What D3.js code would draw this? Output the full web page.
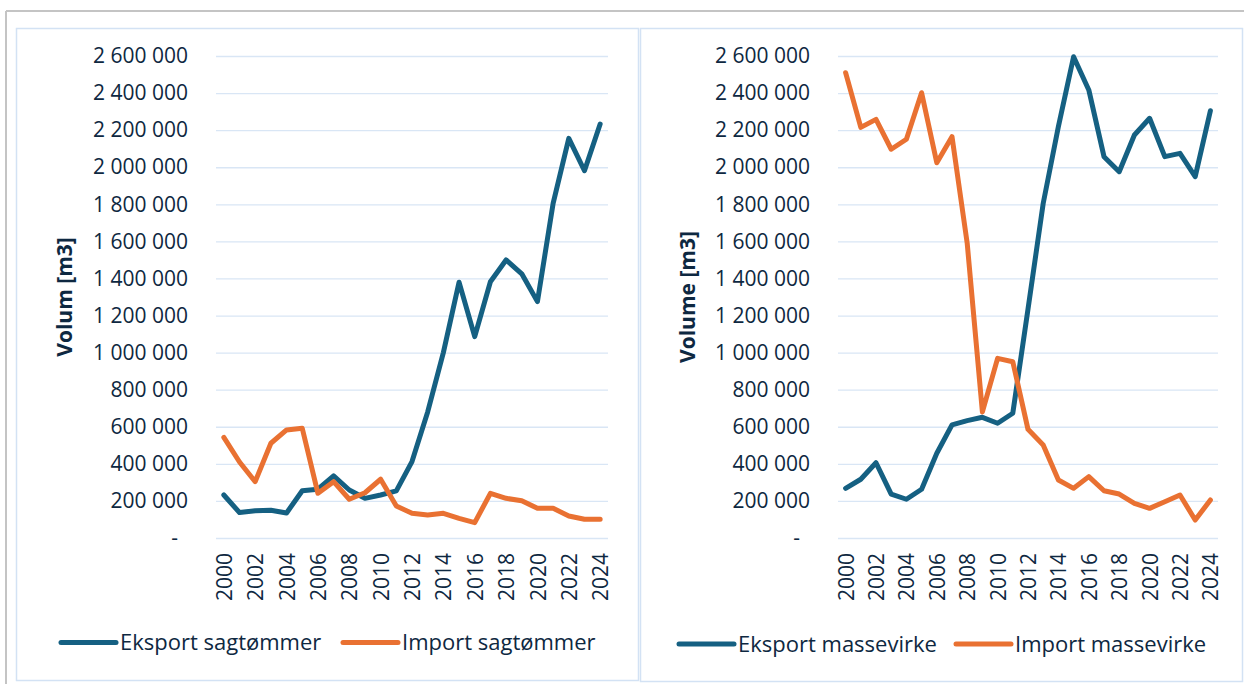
<!DOCTYPE html>
<html>
<head>
<meta charset="utf-8">
<script src="https://cdn.jsdelivr.net/npm/d3@7"></script>
<style>
  html, body { margin: 0; padding: 0; background: #fff; }
  svg { display: block; }
  text { font-family: "Open Sans", "Liberation Sans", Arial, sans-serif; fill: #0E2841; }
</style>
</head>
<body>
<svg id="chart" width="1244" height="684"></svg>
<script>
const years = [2000,2001,2002,2003,2004,2005,2006,2007,2008,2009,2010,2011,2012,2013,2014,2015,2016,2017,2018,2019,2020,2021,2022,2023,2024];
const yearTicks = [2000,2002,2004,2006,2008,2010,2012,2014,2016,2018,2020,2022,2024];
const yTicks = [0,200000,400000,600000,800000,1000000,1200000,1400000,1600000,1800000,2000000,2200000,2400000,2600000];

const eksportSagtommer = [232000,137000,147000,150000,135000,255000,263000,335000,259000,214000,232000,254000,412000,680000,1000000,1380000,1086000,1382000,1500000,1425000,1275000,1805000,2156000,1981000,2233000];
const importSagtommer  = [543000,410000,304000,511000,583000,592000,241000,304000,209000,244000,317000,173000,133000,124000,133000,106000,83000,241000,214000,201000,160000,160000,119000,101000,101000];
const eksportMassevirke = [268000,317000,406000,237000,209000,263000,457000,610000,633000,651000,619000,673000,1234000,1805000,2220000,2596000,2417000,2057000,1976000,2174000,2264000,2057000,2075000,1949000,2305000];
const importMassevirke  = [2510000,2215000,2258000,2097000,2151000,2402000,2024000,2165000,1590000,680000,969000,951000,586000,502000,313000,268000,331000,255000,237000,187000,160000,196000,232000,97000,205000];

const seriesNames = {
  left: ["Eksport sagtømmer", "Import sagtømmer"],
  right: ["Eksport massevirke", "Import massevirke"]
};
const axisTitles = { left: "Volum [m3]", right: "Volume [m3]" };

const BLUE = "#156082", ORANGE = "#E97132";
const GRID = "#d9e6f5", FRAME = "#d3e2f4";
const FONT = "'Open Sans', 'Liberation Sans', Arial, sans-serif";

const svg = d3.select("#chart");

// outer gray frame
svg.append("line").attr("x1", 6).attr("x2", 1244).attr("y1", 11).attr("y2", 11)
  .attr("stroke", "#c4c4c4").attr("stroke-width", 2);
svg.append("line").attr("x1", 6).attr("x2", 6).attr("y1", 11).attr("y2", 684)
  .attr("stroke", "#c4c4c4").attr("stroke-width", 2);

// panel frames
svg.append("rect").attr("x", 16.5).attr("y", 28.5).attr("width", 622).attr("height", 652)
  .attr("fill", "#fff").attr("stroke", FRAME).attr("stroke-width", 1.5);
svg.append("rect").attr("x", 640.5).attr("y", 28.5).attr("width", 602).attr("height", 653)
  .attr("fill", "#fff").attr("stroke", FRAME).attr("stroke-width", 1.5);

const fmt = v => v === 0 ? "-" : d3.format(",")(v).replace(/,/g, "\u00a0");

function drawChart(cfg) {
  const g = svg.append("g");
  const x = d3.scalePoint().domain(years).range([cfg.x0, cfg.x1]).padding(0.5);
  const y = d3.scaleLinear().domain([0, 2600000]).range([538, 56]);

  const yAxis = d3.axisLeft(y).tickValues(yTicks).tickSize(-(cfg.x1 - cfg.x0)).tickPadding(28).tickFormat(fmt);
  const ya = g.append("g").attr("transform", `translate(${cfg.x0},0)`).call(yAxis);
  ya.select(".domain").remove();
  ya.selectAll(".tick line").attr("stroke", GRID).attr("stroke-width", 1.3);
  ya.selectAll(".tick text").attr("font-size", 21).attr("fill", "#0E2841")
    .attr("font-family", FONT)
    .attr("x", d => d === 0 ? -38 : -28);

  const xAxis = d3.axisBottom(x).tickValues(yearTicks).tickSize(0).tickPadding(0);
  const xa = g.append("g").attr("transform", "translate(0,538)").call(xAxis);
  xa.select(".domain").remove();
  xa.selectAll(".tick text").attr("font-size", 21).attr("fill", "#0E2841")
    .attr("font-family", FONT)
    .attr("transform", "rotate(-90)").attr("x", -15).attr("y", 0).attr("dy", "0.36em")
    .attr("text-anchor", "end");

  g.append("text").attr("transform", `translate(${cfg.titleX},297) rotate(-90)`)
    .attr("text-anchor", "middle").attr("dy", "0.35em")
    .attr("font-size", 21).attr("font-weight", "bold").text(cfg.title);

  const line = d3.line().x((d, i) => x(years[i])).y(d => y(d));
  cfg.series.forEach(s => {
    g.append("path").datum(s.values).attr("d", line).attr("fill", "none")
      .attr("stroke", s.color).attr("stroke-width", 5)
      .attr("stroke-linejoin", "round").attr("stroke-linecap", "round");
  });

  cfg.legend.forEach(l => {
    g.append("line").attr("x1", l.lx).attr("x2", l.lx + 55).attr("y1", cfg.ly).attr("y2", cfg.ly)
      .attr("stroke", l.color).attr("stroke-width", 5).attr("stroke-linecap", "round");
    g.append("text").attr("x", l.lx + 59).attr("y", cfg.ly).attr("dy", "0.35em")
      .attr("font-size", 22).text(l.name);
  });
}

drawChart({
  x0: 216, x1: 608, titleX: 65, title: axisTitles.left, ly: 642.5,
  series: [{ values: eksportSagtommer, color: BLUE }, { values: importSagtommer, color: ORANGE }],
  legend: [{ lx: 61, color: BLUE, name: seriesNames.left[0] }, { lx: 343, color: ORANGE, name: seriesNames.left[1] }]
});
drawChart({
  x0: 838, x1: 1218, titleX: 688, title: axisTitles.right, ly: 644,
  series: [{ values: eksportMassevirke, color: BLUE }, { values: importMassevirke, color: ORANGE }],
  legend: [{ lx: 679, color: BLUE, name: seriesNames.right[0] }, { lx: 956, color: ORANGE, name: seriesNames.right[1] }]
});
</script>
</body>
</html>
